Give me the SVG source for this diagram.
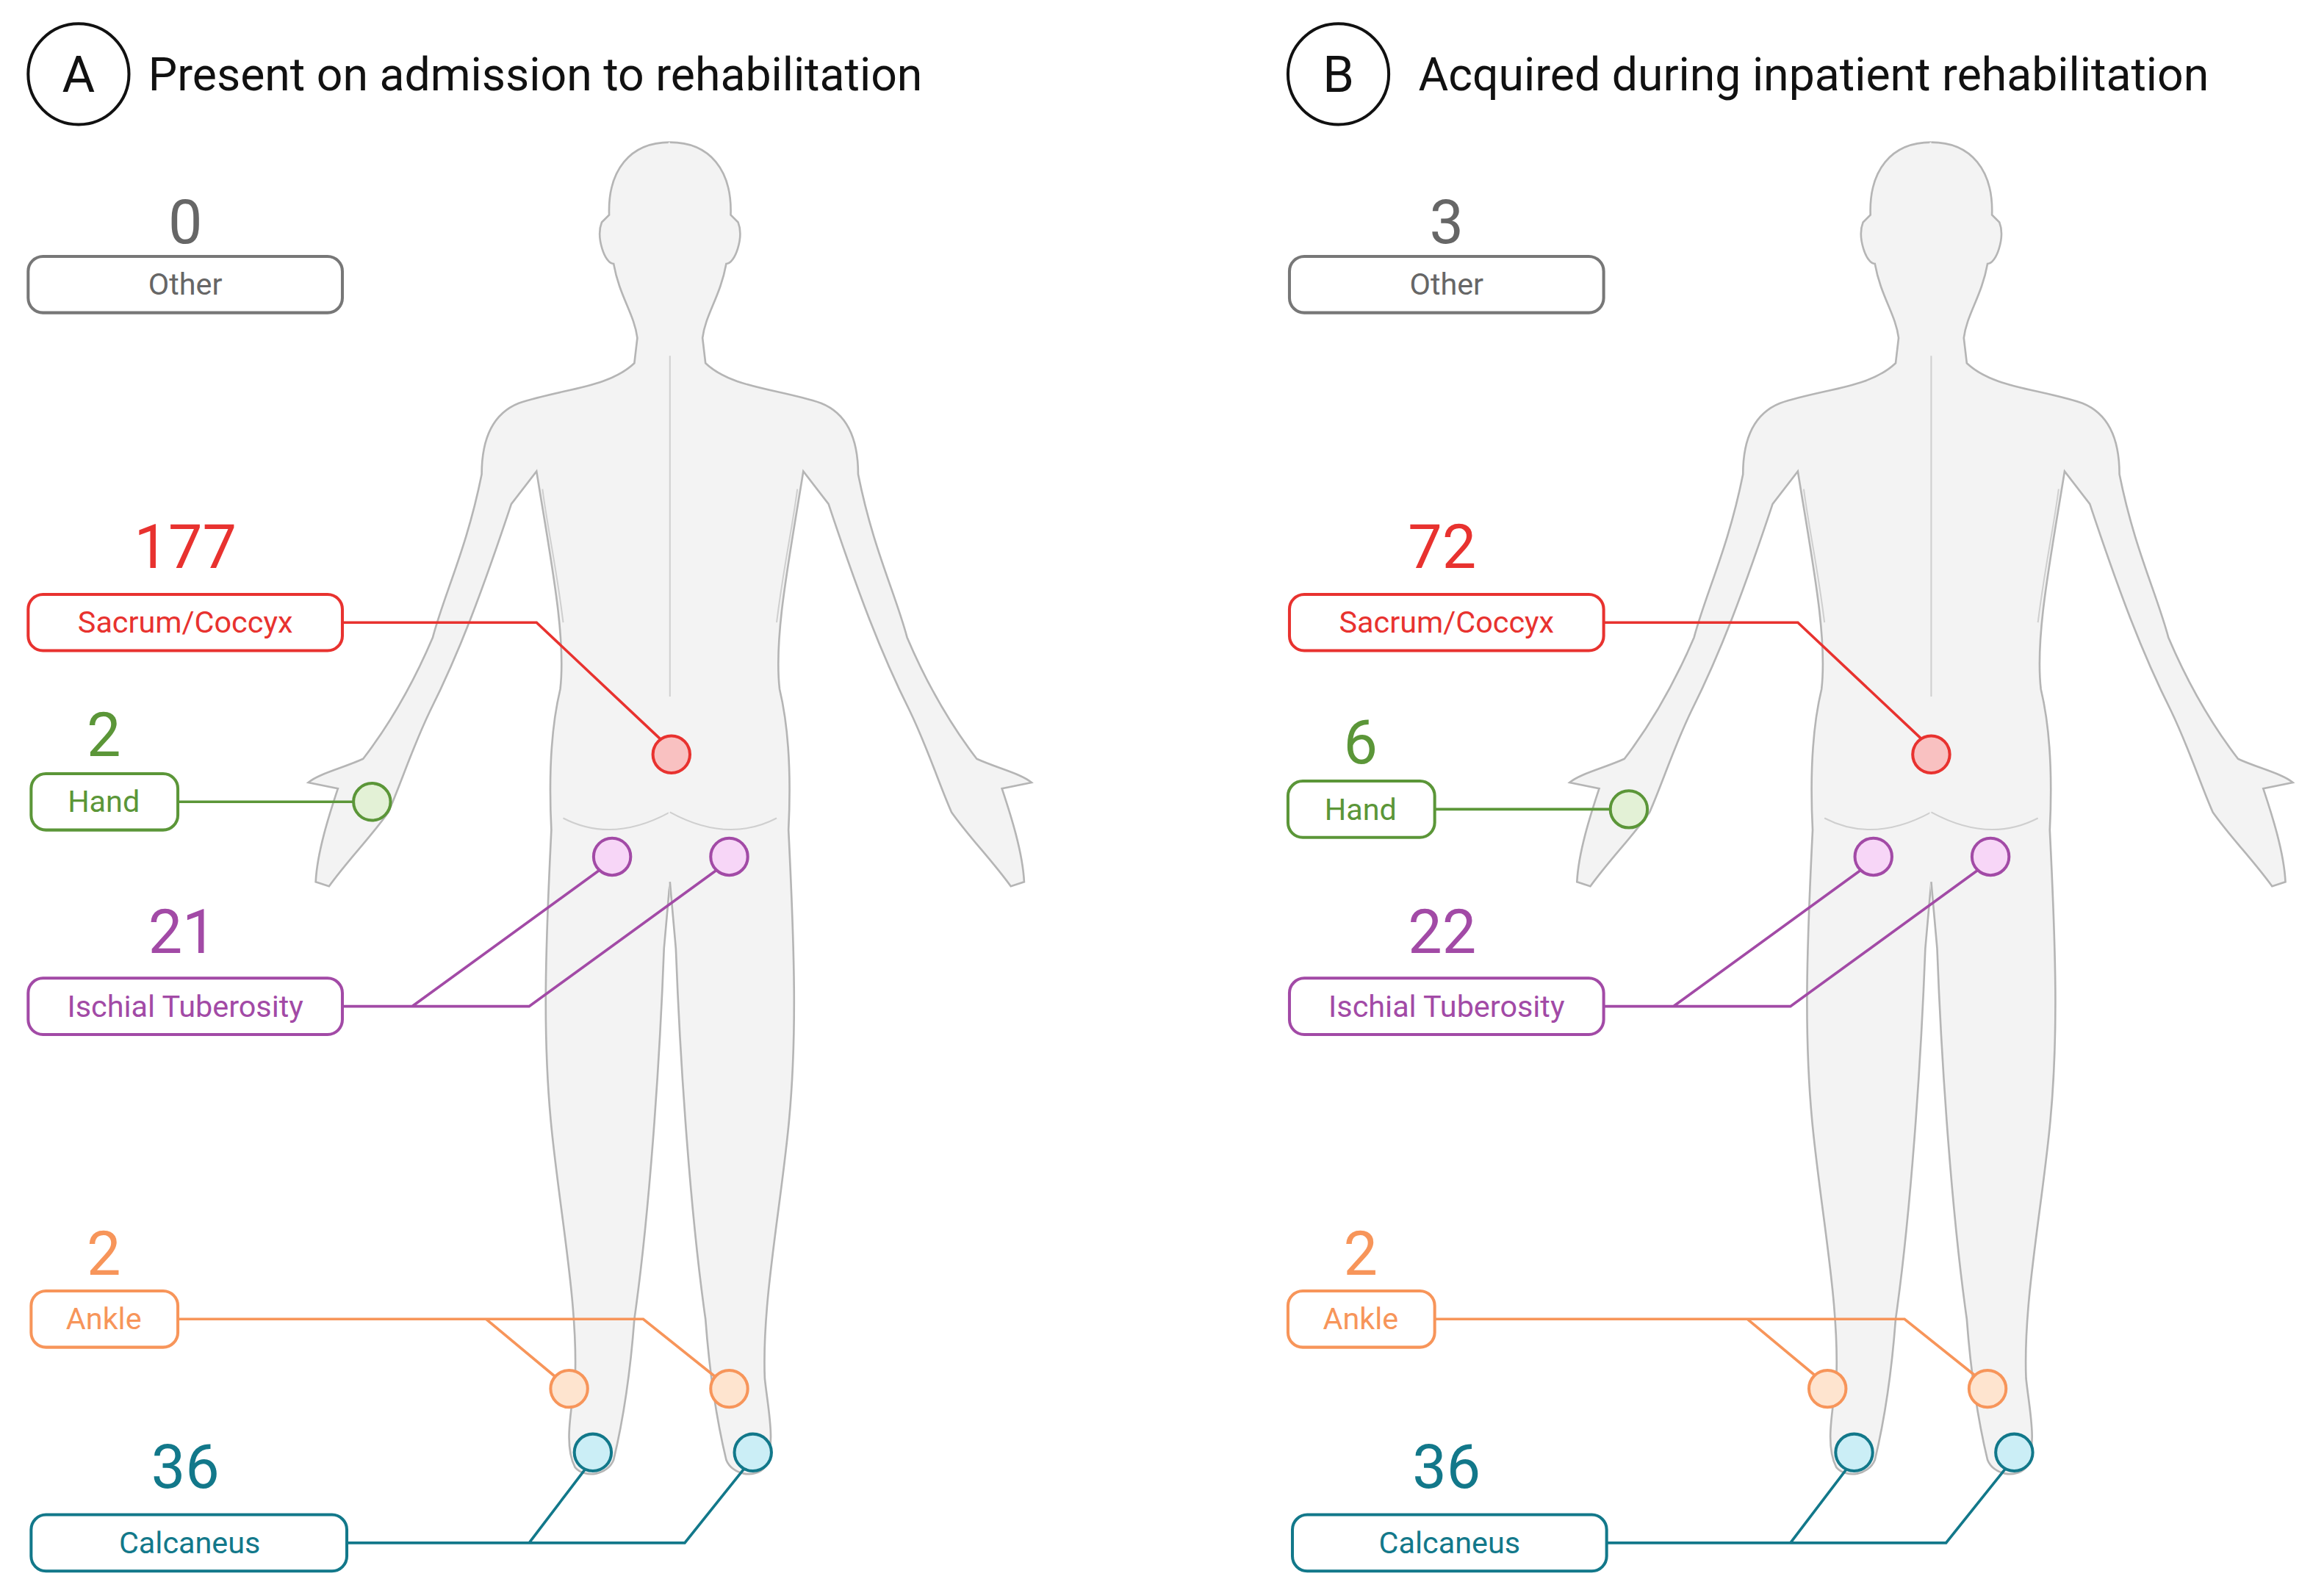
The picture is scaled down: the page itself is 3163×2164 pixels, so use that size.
<svg xmlns="http://www.w3.org/2000/svg" width="3163" height="2164" viewBox="0 0 3163 2164">
<style>
.t{font-family:Roboto,"Liberation Sans",sans-serif}
.title{font-size:31px;fill:#111}
.num{font-size:41px;text-anchor:middle}
.lab{font-size:20.5px;text-anchor:middle}
.box{fill:#fff;stroke-width:2}
.ln{fill:none;stroke-width:1.8}
.dot{stroke-width:2}
.gray{fill:#666}.grayS{stroke:#777}
.red{fill:#e8322f}.redS{stroke:#e8322f}
.grn{fill:#5b9638}.grnS{stroke:#5b9638}
.pur{fill:#a24aa6}.purS{stroke:#a24aa6}
.org{fill:#f7955a}.orgS{stroke:#f7955a}
.tel{fill:#12788a}.telS{stroke:#12788a}
</style>
<defs>
<g id="half">
<path fill="#f3f3f3" d="M452,96 C425,96 410,115 411,145 L406,150 C402,160 408,178 414,178 C418,200 428,212 430,228 L428,245 C410,262 380,262 350,272 C330,280 325,300 325,320 C315,370 300,400 292,430 C275,470 258,495 245,512 C232,518 215,522 208,528 L228,532 C222,550 214,575 213,595 L222,598 C235,580 250,565 262,548 C270,530 278,505 290,480 C310,440 325,400 345,340 L362,318 C372,380 382,430 378,465 C372,490 370,520 372,560 C368,640 366,700 372,760 C378,820 390,880 388,930 C386,950 380,975 388,990 C395,998 410,995 414,985 C420,960 425,930 428,890 C438,820 445,720 448,640 L453,595 L453,96 Z"/>
<path fill="none" stroke="#b5b5b5" stroke-width="1.3" d="M452,96 C425,96 410,115 411,145 L406,150 C402,160 408,178 414,178 C418,200 428,212 430,228 L428,245 C410,262 380,262 350,272 C330,280 325,300 325,320 C315,370 300,400 292,430 C275,470 258,495 245,512 C232,518 215,522 208,528 L228,532 C222,550 214,575 213,595 L222,598 C235,580 250,565 262,548 C270,530 278,505 290,480 C310,440 325,400 345,340 L362,318 C372,380 382,430 378,465 C372,490 370,520 372,560 C368,640 366,700 372,760 C378,820 390,880 388,930 C386,950 380,975 388,990 C395,998 410,995 414,985 C420,960 425,930 428,890 C438,820 445,720 448,640 L452,595"/>
<path fill="none" stroke="#cfcfcf" stroke-width="1" d="M452,548 C430,560 405,565 380,552 M366,330 C370,360 375,380 380,420"/>
</g>
<g id="body">
<use href="#half"/>
<use href="#half" transform="translate(904,0) scale(-1,1)"/>
<path fill="none" stroke="#cfcfcf" stroke-width="1" d="M452,240 L452,470"/>
</g>
</defs>
<rect width="3163" height="2164" fill="#fff"/>
<g transform="scale(2.0172)">
<use href="#body"/>
<use href="#body" transform="translate(851,0)"/>

<g id="connectors">
<path class="ln redS" d="M231,420 H362 L447,500"/>
<path class="ln grnS" d="M120,541 H238"/>
<path class="ln purS" d="M231,679 H357 L485,586 M278,679 L406,586"/>
<path class="ln orgS" d="M120,890 H434 L484,930 M328,890 L376,930"/>
<path class="ln telS" d="M234,1041 H462 L502,991 M357,1041 L395,991"/>
<path class="ln redS" d="M1082,420 H1213 L1298,500"/>
<path class="ln grnS" d="M968,546 H1086"/>
<path class="ln purS" d="M1082,679 H1208 L1336,586 M1129,679 L1257,586"/>
<path class="ln orgS" d="M968,890 H1285 L1335,930 M1179,890 L1227,930"/>
<path class="ln telS" d="M1084,1041 H1313 L1353,991 M1208,1041 L1246,991"/>
</g>

<g id="markersA">
<circle class="dot redS" fill="#f9c1c1" cx="453" cy="509" r="12.5"/>
<circle class="dot grnS" fill="#e3f1d6" cx="251" cy="541" r="12.5"/>
<circle class="dot purS" fill="#f7d6f7" cx="413" cy="578" r="12.5"/>
<circle class="dot purS" fill="#f7d6f7" cx="492" cy="578" r="12.5"/>
<circle class="dot orgS" fill="#fee4cf" cx="384" cy="937" r="12.5"/>
<circle class="dot orgS" fill="#fee4cf" cx="492" cy="937" r="12.5"/>
<circle class="dot telS" fill="#cbeef6" cx="400" cy="980" r="12.5"/>
<circle class="dot telS" fill="#cbeef6" cx="508" cy="980" r="12.5"/>
</g>
<g id="markersB">
<circle class="dot redS" fill="#f9c1c1" cx="1303" cy="509" r="12.5"/>
<circle class="dot grnS" fill="#e3f1d6" cx="1099" cy="546" r="12.5"/>
<circle class="dot purS" fill="#f7d6f7" cx="1264" cy="578" r="12.5"/>
<circle class="dot purS" fill="#f7d6f7" cx="1343" cy="578" r="12.5"/>
<circle class="dot orgS" fill="#fee4cf" cx="1233" cy="937" r="12.5"/>
<circle class="dot orgS" fill="#fee4cf" cx="1341" cy="937" r="12.5"/>
<circle class="dot telS" fill="#cbeef6" cx="1251" cy="980" r="12.5"/>
<circle class="dot telS" fill="#cbeef6" cx="1359" cy="980" r="12.5"/>
</g>

<g id="titleA"><circle cx="53" cy="50" r="34" fill="none" stroke="#111" stroke-width="2"/><text class="t" x="53" y="62" font-size="34" text-anchor="middle" fill="#111">A</text><text class="t title" x="100" y="61">Present on admission to rehabilitation</text></g>
<g id="titleB"><circle cx="903" cy="50" r="34" fill="none" stroke="#111" stroke-width="2"/><text class="t" x="903" y="62" font-size="34" text-anchor="middle" fill="#111">B</text><text class="t title" x="957" y="61">Acquired during inpatient rehabilitation</text></g>

<g id="otherA"><text class="t num gray" x="125" y="164">0</text><rect class="box grayS" x="19" y="173" width="212" height="38" rx="10"/><text class="t lab gray" x="125" y="199">Other</text></g>
<g id="sacrumA"><text class="t num red" x="125" y="383">177</text><rect class="box redS" x="19" y="401" width="212" height="38" rx="10"/><text class="t lab red" x="125" y="427">Sacrum/Coccyx</text></g>
<g id="handA"><text class="t num grn" x="70" y="510">2</text><rect class="box grnS" x="21" y="522" width="99" height="38" rx="10"/><text class="t lab grn" x="70" y="548">Hand</text></g>
<g id="ischialA"><text class="t num pur" x="123" y="643">21</text><rect class="box purS" x="19" y="660" width="212" height="38" rx="10"/><text class="t lab pur" x="125" y="686">Ischial Tuberosity</text></g>
<g id="ankleA"><text class="t num org" x="70" y="860">2</text><rect class="box orgS" x="21" y="871" width="99" height="38" rx="10"/><text class="t lab org" x="70" y="897">Ankle</text></g>
<g id="calcA"><text class="t num tel" x="125" y="1004">36</text><rect class="box telS" x="21" y="1022" width="213" height="38" rx="10"/><text class="t lab tel" x="128" y="1048">Calcaneus</text></g>

<g id="otherB"><text class="t num gray" x="976" y="164">3</text><rect class="box grayS" x="870" y="173" width="212" height="38" rx="10"/><text class="t lab gray" x="976" y="199">Other</text></g>
<g id="sacrumB"><text class="t num red" x="973" y="383">72</text><rect class="box redS" x="870" y="401" width="212" height="38" rx="10"/><text class="t lab red" x="976" y="427">Sacrum/Coccyx</text></g>
<g id="handB"><text class="t num grn" x="918" y="515">6</text><rect class="box grnS" x="869" y="527" width="99" height="38" rx="10"/><text class="t lab grn" x="918" y="553">Hand</text></g>
<g id="ischialB"><text class="t num pur" x="973" y="643">22</text><rect class="box purS" x="870" y="660" width="212" height="38" rx="10"/><text class="t lab pur" x="976" y="686">Ischial Tuberosity</text></g>
<g id="ankleB"><text class="t num org" x="918" y="860">2</text><rect class="box orgS" x="869" y="871" width="99" height="38" rx="10"/><text class="t lab org" x="918" y="897">Ankle</text></g>
<g id="calcB"><text class="t num tel" x="976" y="1004">36</text><rect class="box telS" x="872" y="1022" width="212" height="38" rx="10"/><text class="t lab tel" x="978" y="1048">Calcaneus</text></g>
</g>
</svg>
